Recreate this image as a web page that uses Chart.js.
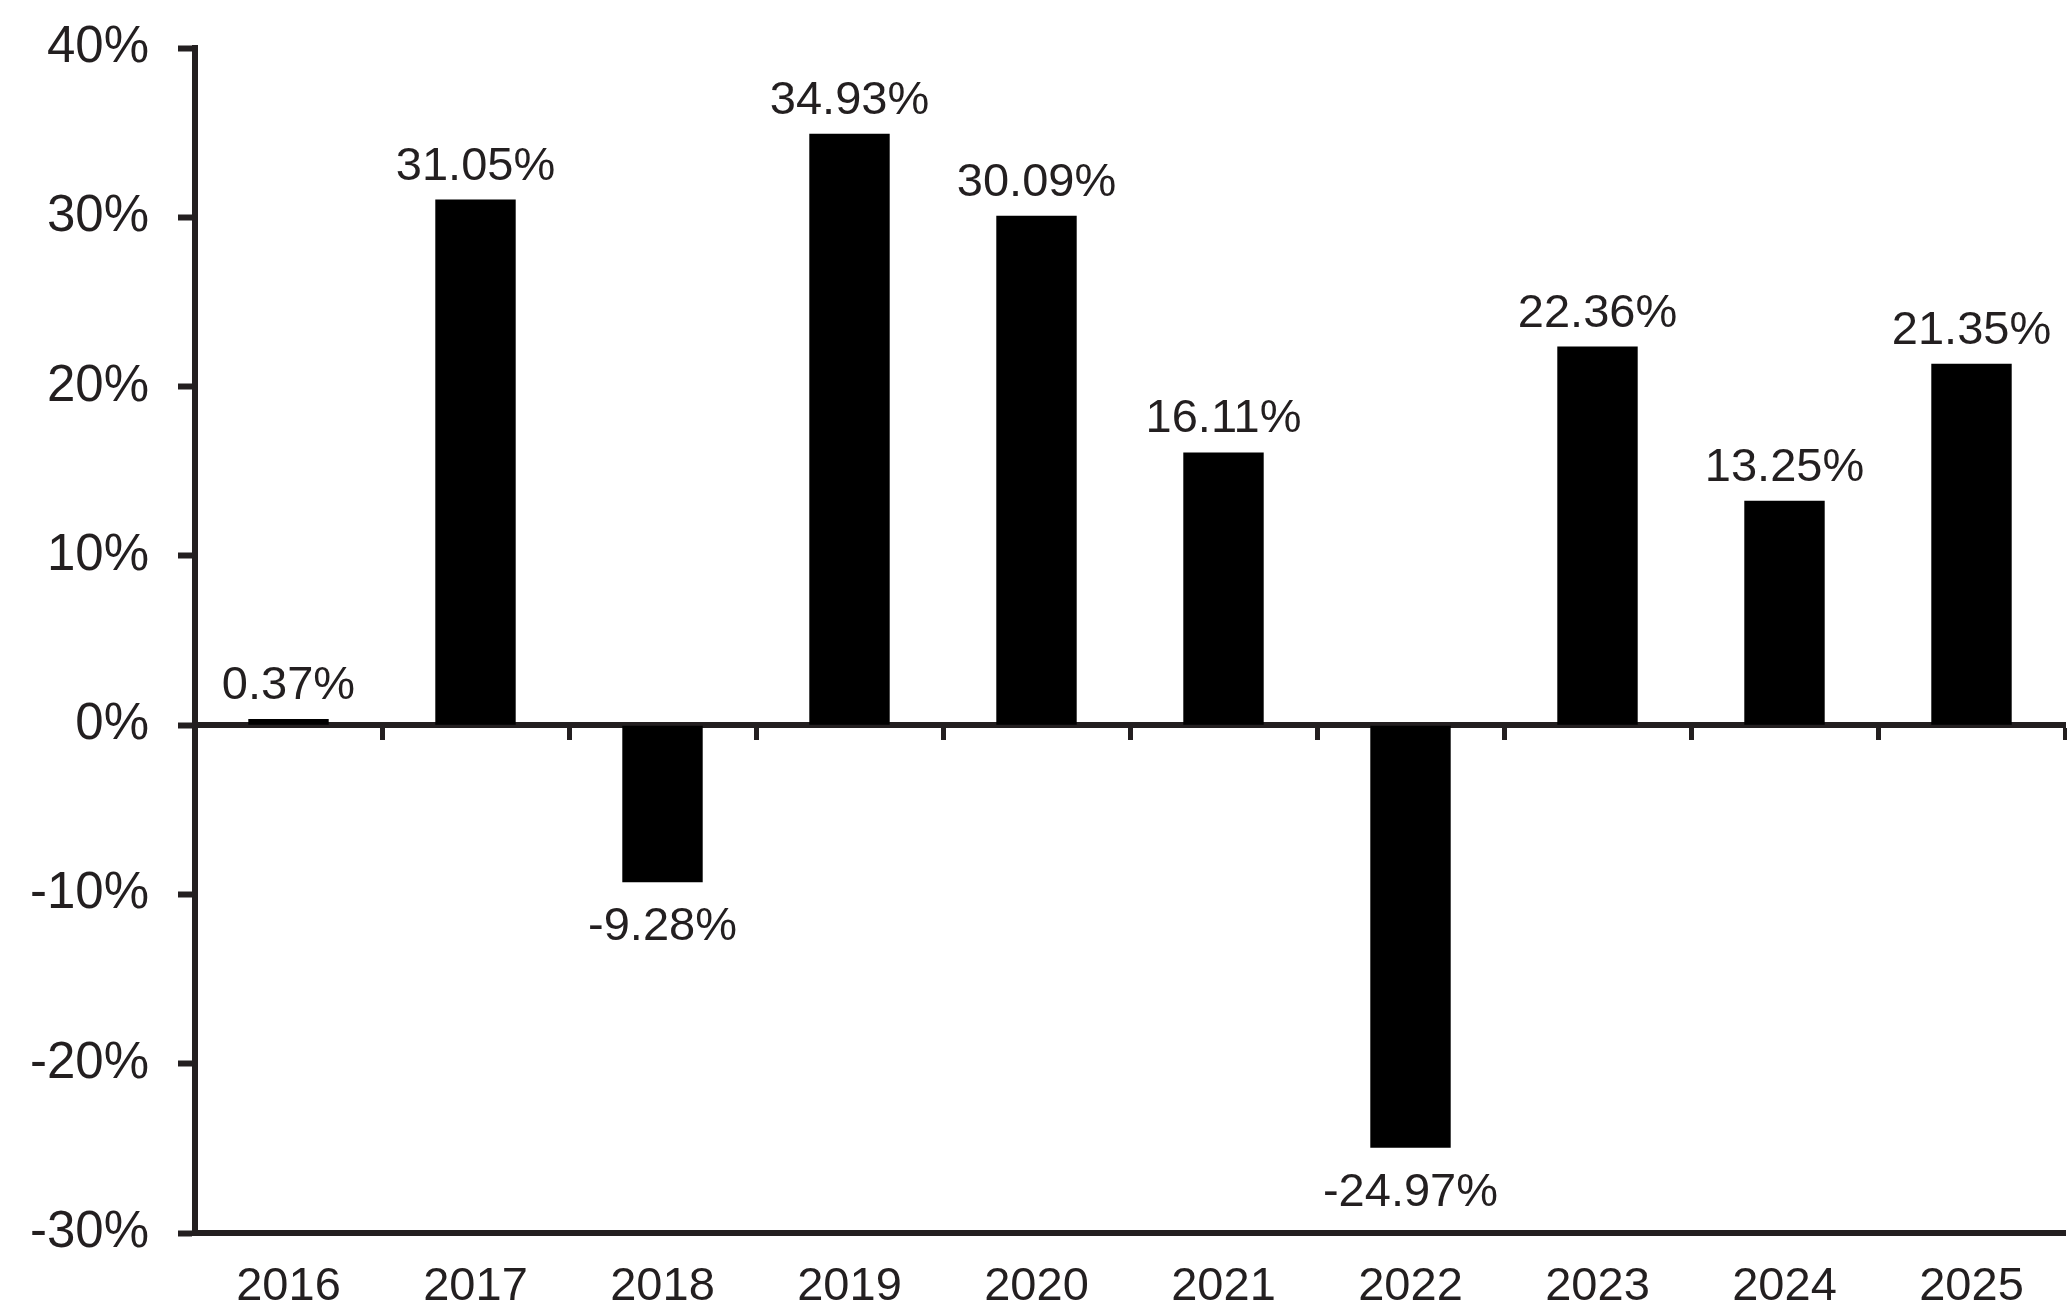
<!DOCTYPE html>
<html>
<head>
<meta charset="utf-8">
<title>Annual returns</title>
<script src="https://cdn.jsdelivr.net/npm/chart.js@4.4.1/dist/chart.umd.min.js"></script>
<style>
    html, body { margin: 0; padding: 0; background: #fff; }
    #wrap { width: 2067px; height: 1308px; position: relative; }
</style>
</head>
<body>
<div id="wrap"><canvas id="myChart"></canvas></div>
<script>
// values
var years = ['2016', '2017', '2018', '2019', '2020', '2021', '2022', '2023', '2024', '2025'];
var returns = [0.37, 31.05, -9.28, 34.93, 30.09, 16.11, -24.97, 22.36, 13.25, 21.35];
var yMin = -30;
var yMax = 40;
var yStep = 10;

var ink = '#231f20';
var fontFamily = '"Liberation Sans", Arial, Helvetica, sans-serif';
var fontSize = 47;

// draws the value over / under each bar
var barLabels = {
    id: 'barLabels',
    afterDatasetsDraw: function (chart) {
        var ctx = chart.ctx;
        var meta = chart.getDatasetMeta(0);
        ctx.save();
        ctx.font = fontSize + 'px ' + fontFamily;
        ctx.fillStyle = ink;
        ctx.textAlign = 'center';
        ctx.textBaseline = 'alphabetic';
        meta.data.forEach(function (bar, i) {
            var v = returns[i];
            var txt = v.toFixed(2) + '%';
            if (v >= 0) {
                ctx.fillText(txt, bar.x, bar.y - 20);
            } else {
                ctx.fillText(txt, bar.x, bar.y + 58);
            }
        });
        ctx.restore();
    }
};

var ctx = document.getElementById('myChart').getContext('2d');
var myChart = new Chart(ctx, {
    type: 'bar',
    data: {
        labels: years,
        datasets: [{
            data: returns,
            backgroundColor: '#000000',
            borderWidth: 0,
            barPercentage: 0.43,
            categoryPercentage: 1.0
        }]
    },
    options: {
        responsive: true,
        maintainAspectRatio: false,
        animation: false,
        layout: { padding: { top: 48, right: 2, left: 0, bottom: 0 } },
        plugins: {
            legend: { display: false },
            tooltip: { enabled: false }
        },
        scales: {
            x: {
                type: 'category',
                position: 'bottom',
                offset: true,
                grid: { display: false, drawTicks: false },
                border: { display: true, width: 6, color: ink },
                ticks: {
                    color: ink,
                    font: { family: fontFamily, size: fontSize },
                    padding: 26,
                    maxRotation: 0,
                    autoSkip: false
                },
                afterFit: function (scale) {
                    scale.height = 75;
                    scale.paddingLeft = 0;
                    scale.paddingRight = 0;
                }
            },
            x2: {
                type: 'category',
                position: { y: 0 },
                offset: true,
                z: 1,
                grid: {
                    display: true,
                    offset: true,
                    drawOnChartArea: false,
                    drawTicks: true,
                    tickLength: 12,
                    tickWidth: 5,
                    tickColor: ink
                },
                border: { display: true, width: 6, color: ink },
                ticks: { display: false, autoSkip: false }
            },
            y: {
                min: yMin,
                max: yMax,
                ticks: {
                    stepSize: yStep,
                    color: ink,
                    font: { family: fontFamily, size: 51 },
                    padding: 29,
                    callback: function (v) { return v + '%'; }
                },
                grid: {
                    display: true,
                    drawOnChartArea: false,
                    drawTicks: true,
                    tickLength: 17,
                    tickWidth: 6,
                    tickColor: ink
                },
                border: { display: true, width: 6, color: ink },
                afterFit: function (scale) {
                    scale.width = 195;
                    scale.paddingTop = 0;
                    scale.paddingBottom = 0;
                }
            }
        }
    },
    plugins: [barLabels]
});
</script>
</body>
</html>
